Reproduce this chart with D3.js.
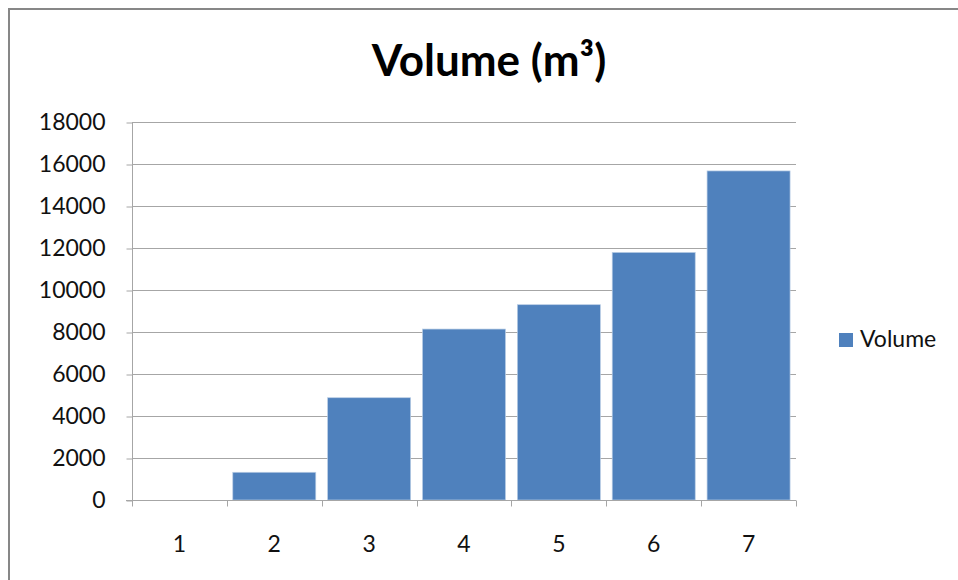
<!DOCTYPE html>
<html><head><meta charset="utf-8">
<script src="https://cdn.jsdelivr.net/npm/d3@7"></script>
<style>body{margin:0;background:#fff;}svg{display:block;}</style>
</head><body>
<svg id="c" width="958" height="580"></svg>
<script>
const categories = ["1","2","3","4","5","6","7"];
const volumeValues = [0, 1320, 4870, 8140, 9300, 11790, 15670];
const yTicks = [0,2000,4000,6000,8000,10000,12000,14000,16000,18000];
const seriesName = "Volume";
const titleText = "Volume (m³)";

(function(){
const svg = d3.select("#c");
const font = "Lato, 'Open Sans', sans-serif";
const fs = 23;

// chart frame
svg.append("rect").attr("x",9).attr("y",9).attr("width",1000).attr("height",700)
  .attr("fill","#fff").attr("stroke","#878787").attr("stroke-width",2);

const pLeft = 132, pRight = 796, pTop = 122, pBottom = 500;
const x = d3.scaleBand().domain(categories).range([pLeft,pRight]).paddingInner(0.125).paddingOuter(0.0625);
const y = d3.scaleLinear().domain([0,18000]).range([pBottom,pTop]);

// gridlines
svg.append("g").selectAll("line").data(yTicks.slice(1)).join("line")
  .attr("x1",pLeft).attr("x2",pRight).attr("y1",d=>y(d)+0.5).attr("y2",d=>y(d)+0.5)
  .attr("stroke","#a6a6a6").attr("stroke-width",1);

// bars
svg.append("g").selectAll("rect").data(volumeValues).join("rect")
  .attr("x",(d,i)=>x(categories[i]))
  .attr("width",x.bandwidth())
  .attr("y",d=>y(d))
  .attr("height",d=>pBottom-y(d))
  .attr("fill","#4f81bd")
  .attr("stroke",d=>d>0?"#b9cde5":"none").attr("stroke-width",0.7);

// y axis
const yAxis = d3.axisLeft(y).tickValues(yTicks).tickSize(6).tickPadding(21).tickFormat(d3.format("d"));
const gy = svg.append("g").attr("transform",`translate(${pLeft+0.5},0.5)`).call(yAxis);
gy.select(".domain").attr("stroke","#a6a6a6").attr("d",`M0,${pTop}V${pBottom}`);
gy.selectAll(".tick line").attr("stroke","#a6a6a6");
gy.selectAll("text").attr("font-family",font).attr("font-size",fs).attr("fill","#111");

// x axis
const gx = svg.append("g").attr("transform",`translate(0,${pBottom+0.5})`);
gx.append("line").attr("x1",pLeft-6).attr("x2",pRight).attr("y1",0).attr("y2",0).attr("stroke","#a6a6a6");
const bounds = d3.range(categories.length+1).map(i=>pLeft+i*(pRight-pLeft)/categories.length);
gx.selectAll(".tk").data(bounds).join("line").attr("class","tk")
  .attr("x1",d=>Math.round(d)+0.5).attr("x2",d=>Math.round(d)+0.5).attr("y1",0).attr("y2",6).attr("stroke","#a6a6a6");
gx.selectAll("text.lbl").data(categories).join("text").attr("class","lbl")
  .attr("x",d=>x(d)+x.bandwidth()/2).attr("y",51)
  .attr("text-anchor","middle").attr("font-family",font).attr("font-size",fs).attr("fill","#111").text(d=>d);

// title
svg.append("text").attr("x",489).attr("y",76).attr("text-anchor","middle")
  .attr("font-family",font).attr("font-weight","bold").attr("font-size",44).attr("fill","#000").text(titleText);

// legend
svg.append("rect").attr("x",839).attr("y",333).attr("width",14).attr("height",14).attr("fill","#4f81bd");
svg.append("text").attr("x",860).attr("y",347).attr("font-family",font).attr("font-size",fs).attr("fill","#111").text(seriesName);
})();
</script>
</body></html>
